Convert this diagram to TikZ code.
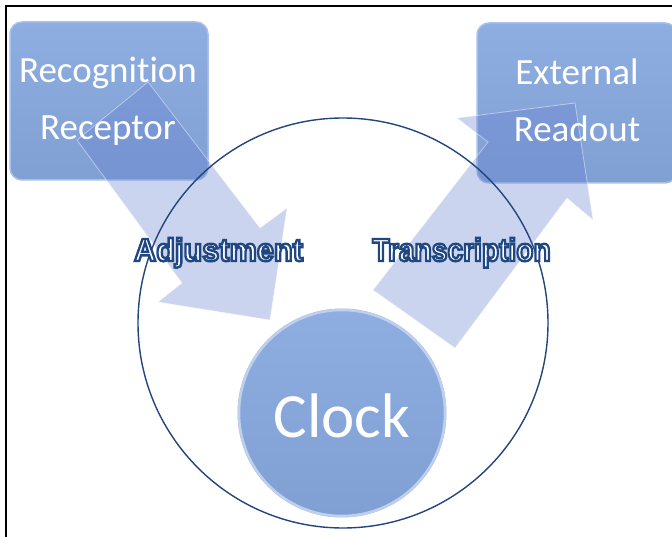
\documentclass[tikz,border=0pt]{standalone}
\usepackage{fontspec}
\setmainfont{Carlito}[Ligatures=NoCommon]
\newfontfamily\lblfont{Liberation Sans}
\usetikzlibrary{calc}
\definecolor{boxfill}{RGB}{128,160,212}
\definecolor{boxtop}{RGB}{142,174,225}
\definecolor{boxedge}{RGB}{168,192,234}
\definecolor{arrowc}{RGB}{100,125,205}
\definecolor{ringc}{RGB}{35,70,125}
\definecolor{clockedge}{RGB}{190,208,238}
\definecolor{clockhalo}{RGB}{178,186,204}
\newcommand\outlinetext[1]{\special{pdf:literal direct 2 Tr 2.4 w 0.12 0.28 0.51 RG}#1\special{pdf:literal direct 0 Tr}}
\begin{document}
\begin{tikzpicture}[x=1pt,y=-1pt,
  boxshape/.style={rounded corners=12pt, top color=boxtop, bottom color=boxfill, draw=boxedge, line width=1.5pt},
  blockarrow/.style={fill=arrowc, fill opacity=0.33, draw=white, draw opacity=0.45, line width=0.8pt},
  boxtext/.style={text=white, font=\fontsize{37}{40}\selectfont, anchor=base, inner sep=0pt},
  lbl/.style={font=\lblfont\bfseries\fontsize{32}{34}\selectfont, anchor=base, inner sep=0pt, text=white},
]
\useasboundingbox (0,0) rectangle (672,537);
\fill[white] (0,0) rectangle (672,537);

% boxes
\node[boxshape, minimum width=198pt, minimum height=158pt, inner sep=0pt] (rec) at (109,101) {};
\node[boxshape, minimum width=200pt, minimum height=160pt, inner sep=0pt] (ext) at (577,103) {};

% block arrows
\coordinate (a1) at (148,82);  \coordinate (a2) at (260,228); \coordinate (a3) at (287,208);
\coordinate (a4) at (270,320); \coordinate (a5) at (158,302); \coordinate (a6) at (182,283);
\coordinate (a7) at (77,140);
\path[blockarrow] (a1) -- (a2) -- (a3) -- (a4) -- (a5) -- (a6) -- (a7) -- cycle;
\coordinate (t1) at (373,290); \coordinate (t2) at (488,142); \coordinate (t3) at (457,118);
\coordinate (t4) at (575,103); \coordinate (t5) at (593,220); \coordinate (t6) at (567,198);
\coordinate (t7) at (455,348);
\path[blockarrow] (t1) -- (t2) -- (t3) -- (t4) -- (t5) -- (t6) -- (t7) -- cycle;

% box texts
\node[boxtext] (rec1) at (108,83) {Recognition};
\node[boxtext] (rec2) at (108,140) {Receptor};
\node[boxtext] (ext1) at (577,85) {External};
\node[boxtext] (ext2) at (577,142) {Readout};

% big ring
\node[draw=ringc, line width=1.4pt, circle, minimum size=410pt, inner sep=0pt] (ring) at (343,323) {};

% clock
\fill[clockhalo] (342,413) circle (104.5);
\node[circle, minimum size=206pt, inner sep=0pt, top color=boxtop, bottom color=boxfill, draw=clockedge, line width=2.5pt] (clock) at (342,413) {};
\node[text=white, font=\fontsize{63}{70}\selectfont, anchor=base, inner sep=0pt] (clocktxt) at (342,437) {Clock};

% labels
\node[lbl, xscale=0.96] (adj) at (218.5,261) {\outlinetext{Adjustment}};
\node[lbl, xscale=0.88] (tra) at (461.5,261) {\outlinetext{Transcription}};

% frame
\draw[line width=2pt] (6,537) -- (6,6) -- (672,6);
\end{tikzpicture}
\end{document}
